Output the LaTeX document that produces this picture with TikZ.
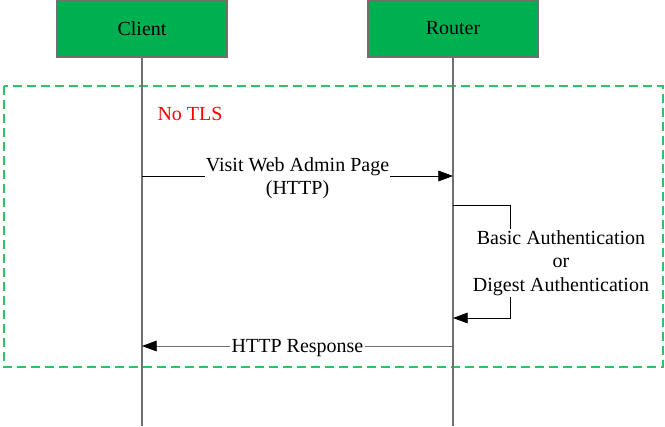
\documentclass[tikz,border=0pt]{standalone}
\usepackage{fontspec}
\setmainfont{Liberation Serif}
\usetikzlibrary{positioning,arrows.meta,calc}
\definecolor{boxgreen}{HTML}{00B050}
\definecolor{zonegreen}{HTML}{2EC466}
\definecolor{linegray}{HTML}{707070}

\begin{document}
\begin{tikzpicture}[
  x=0.75pt, y=-0.75pt,
  font=\fontsize{15}{17.5}\selectfont,
  actor/.style={draw=linegray, fill=boxgreen, line width=0.9pt, minimum width=127.5pt, minimum height=42.75pt, inner sep=0pt},
  lifeline/.style={draw=linegray, line width=0.9pt},
  zone/.style={draw=zonegreen, line width=1.1pt, dash pattern=on 6.75pt off 3.75pt},
  msg/.style={-{Triangle[length=11pt, width=8pt, black]}, line width=0.6pt},
  lbl/.style={fill=white, align=center, inner sep=1pt, yshift=-1.5pt},
]
\useasboundingbox (0,0) rectangle (665,426);
% dashed area
\draw[zone] (4,86) rectangle (663,367);
\node[text=red] (notls) at (190,114) {No TLS};
% actors and lifelines
\node[actor] (client) at (142,28.5) {Client};
\node[actor] (router) at (453,28.5) {Router};
\coordinate (clientEnd) at (client.south |- 0,426);
\coordinate (routerEnd) at (router.south |- 0,426);
\draw[lifeline] (client.south) -- (clientEnd);
\draw[lifeline] (router.south) -- (routerEnd);
% messages
\coordinate (req0) at (client.south |- 0,176);
\coordinate (req1) at (router.south |- 0,176);
\draw[msg] (req0) -- node[lbl] {Visit Web Admin Page\\(HTTP)} (req1);
\coordinate (auth0) at (router.south |- 0,205);
\coordinate (authX) at (510,261);
\coordinate (auth1) at (router.south |- 0,318);
\draw[msg] (auth0) -| (authX) |- (auth1);
\node[lbl] (auth) at (561,261) {Basic Authentication\\or\\Digest Authentication};
\coordinate (resp0) at (router.south |- 0,346);
\coordinate (resp1) at (client.south |- 0,346);
\draw[msg, draw=linegray] (resp0) -- node[lbl, inner ysep=0pt] {HTTP Response} (resp1);
\end{tikzpicture}
\end{document}
